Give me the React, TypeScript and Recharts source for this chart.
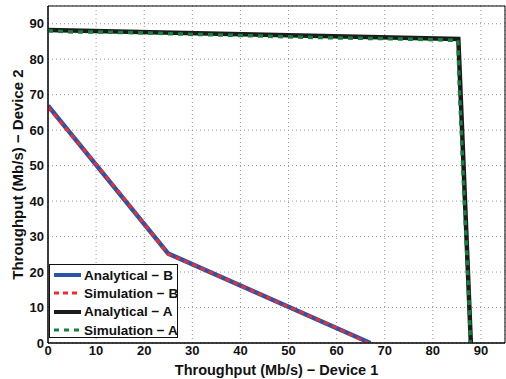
import { CartesianGrid, Line, LineChart, ReferenceArea, XAxis, YAxis } from "recharts";

const TICKS = [0, 10, 20, 30, 40, 50, 60, 70, 80, 90];

const anaB_x = [0, 25, 67];
const anaB_y = [66.9, 25.2, 0];
const simB_x = [0, 5, 10, 15, 20, 25, 30, 40, 50, 60, 66.5];
const simB_y = [66.5, 58.4, 50.4, 42.1, 33.6, 25, 22.2, 16.2, 10.2, 4.3, 0];
const anaA_x = [0, 85.3, 87.9];
const anaA_y = [88.2, 85.7, 0];
const simA_x = [0, 5, 10, 20, 30, 40, 50, 60, 70, 80, 85.2, 85.5, 85.9, 86.3, 86.7, 87.1, 87.5, 87.8];
const simA_y = [88, 87.7, 87.7, 87.4, 87.0, 86.7, 86.3, 86.0, 85.8, 85.5, 85.3, 72, 60, 47, 35, 24, 12, 0];

const zip = (xs: number[], ys: number[]) => xs.map((x, i) => ({ x, y: ys[i] }));

const SERIES = [
  { name: "Analytical − B", data: zip(anaB_x, anaB_y), color: "#2b54a8", width: 4.5, dash: undefined },
  { name: "Simulation − B", data: zip(simB_x, simB_y), color: "#ee2b2f", width: 3, dash: "5 4" },
  { name: "Analytical − A", data: zip(anaA_x, anaA_y), color: "#1b1b1b", width: 4.5, dash: undefined },
  { name: "Simulation − A", data: zip(simA_x, simA_y), color: "#16803f", width: 3.5, dash: "5 5" },
];

const FONT = "'Liberation Sans', Arial, sans-serif";
const tickStyle = { fontFamily: FONT, fontSize: 13, fontWeight: 700, fill: "#111" };

export default function App() {
  return (
    <div style={{ position: "absolute", left: 0, top: 0, width: 506, height: 379, background: "#fff" }}>
      <LineChart width={506} height={379} margin={{ top: 6, right: 1, bottom: 0, left: 0 }}>
        <CartesianGrid stroke="#9a9a9a" strokeDasharray="1 3" />
        <XAxis
          dataKey="x"
          type="number"
          domain={[0, 95]}
          ticks={TICKS}
          allowDataOverflow
          height={36}
          tickLine={false}
          tickSize={1}
          tickMargin={2}
          tick={tickStyle}
          axisLine={{ stroke: "#000" }}
          label={{ value: "Throughput (Mb/s) − Device 1", position: "insideBottom", offset: 4, style: { fontFamily: FONT, fontSize: 14.5, fontWeight: 700, fill: "#111" } }}
        />
        <YAxis
          dataKey="y"
          type="number"
          domain={[0, 95]}
          ticks={TICKS}
          allowDataOverflow
          width={48}
          tickLine={false}
          tickSize={2}
          tickMargin={2}
          tick={tickStyle}
          axisLine={{ stroke: "#000" }}
          label={{ value: "Throughput (Mb/s) − Device 2", angle: -90, position: "insideLeft", offset: 18, style: { textAnchor: "middle", fontFamily: FONT, fontSize: 15, fontWeight: 700, fill: "#111" } }}
        />
        <ReferenceArea x1={0} x2={95} y1={0} y2={95} fill="none" stroke="#000" strokeWidth={1} />
        {SERIES.map((s) => (
          <Line
            key={s.name}
            data={s.data}
            dataKey="y"
            type="linear"
            stroke={s.color}
            strokeWidth={s.width}
            strokeDasharray={s.dash}
            dot={false}
            isAnimationActive={false}
          />
        ))}
      </LineChart>
      <div
        style={{
          position: "absolute",
          left: 49,
          top: 264,
          width: 129,
          height: 74,
          border: "1.5px solid #111",
          background: "#fff",
          fontFamily: FONT,
          fontWeight: 700,
          fontSize: 13.5,
          color: "#111",
          boxSizing: "border-box",
          paddingTop: 1,
        }}
      >
        {SERIES.map((s) => (
          <div key={s.name} style={{ display: "flex", alignItems: "center", height: 18.3 }}>
            <svg width={34} height={10} style={{ flexShrink: 0 }}>
              <line x1={4} x2={31} y1={5} y2={5} stroke={s.color} strokeWidth={s.dash ? 3 : 4} strokeDasharray={s.dash} />
            </svg>
            <span style={{ whiteSpace: "nowrap" }}>{s.name}</span>
          </div>
        ))}
      </div>
    </div>
  );
}
